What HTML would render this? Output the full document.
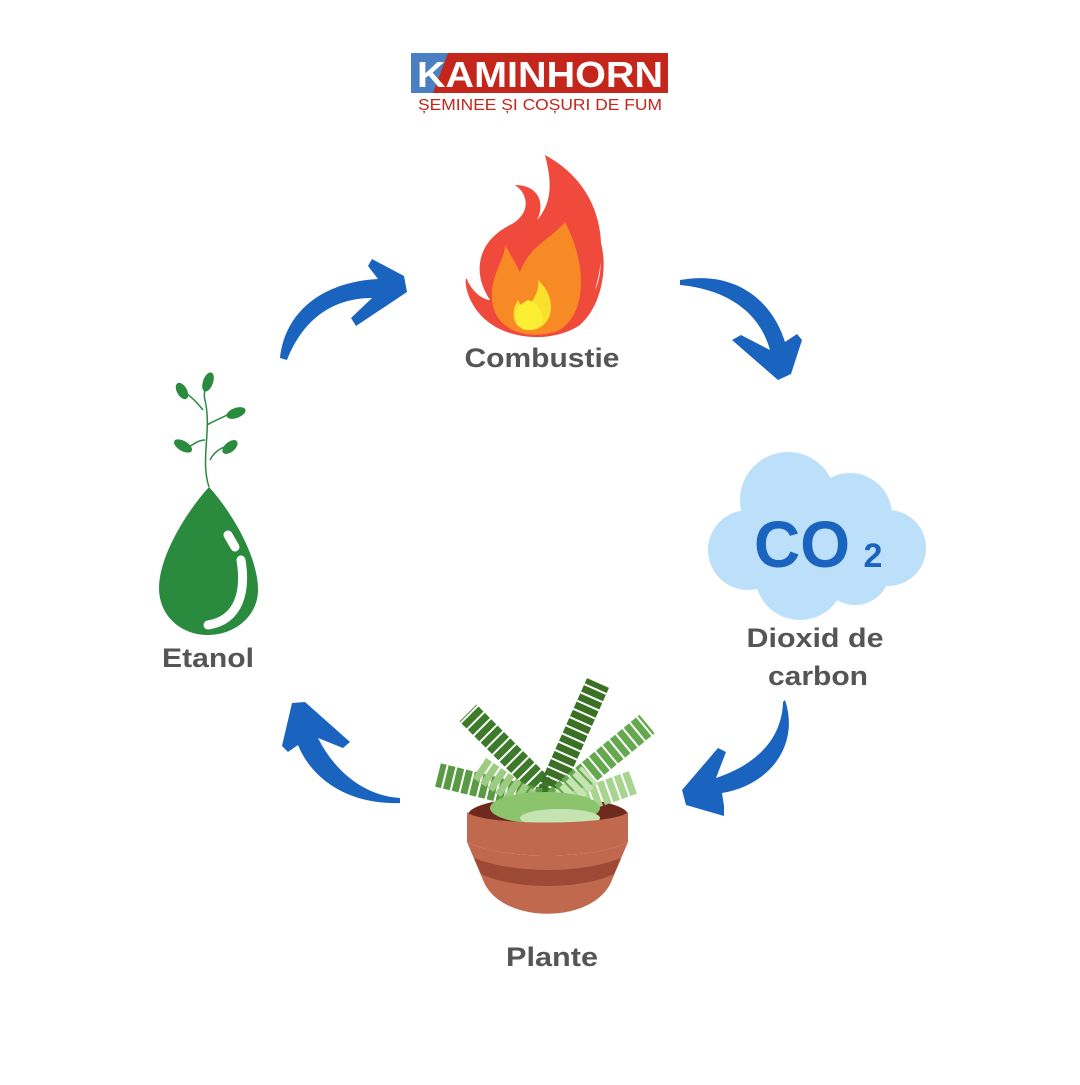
<!DOCTYPE html>
<html><head><meta charset="utf-8"><style>
html,body{margin:0;padding:0;background:#fff;}
.lbl{font-family:"Liberation Sans",sans-serif;font-weight:bold;font-size:27px;fill:#555;}
</style></head><body>
<svg width="1080" height="1080" viewBox="0 0 1080 1080" xmlns="http://www.w3.org/2000/svg">
<rect x="411" y="53" width="257" height="40" fill="#c4261b"/>
<polygon points="411,53 448,53 433,93 411,93" fill="#4a7fc4"/>
<text x="540" y="87" text-anchor="middle" font-family="Liberation Sans,sans-serif" font-weight="bold" font-size="36" fill="#fff" textLength="246" lengthAdjust="spacingAndGlyphs">KAMINHORN</text>
<text x="540" y="110" text-anchor="middle" font-family="Liberation Sans,sans-serif" font-size="15.5" fill="#c4261b" textLength="244" lengthAdjust="spacingAndGlyphs">ȘEMINEE ȘI COȘURI DE FUM</text>

<g fill="#1a64bf">
<path d="M280,358 C285,312 322,282 378,279 L368,266 L372,259 L404,276 L407,292 L356,326 L351,318 L372,298 C330,298 302,322 287,360 Z"/>
<path d="M680,280 C735,270 772,300 785,342 L797,334 L802,340 L791,374 L778,380 L732,340 L741,335 L770,350 C760,314 730,290 680,285 Z"/>
<path d="M785,700 C800,745 770,785 722,793 L724,806 L724,816 L686,805 L682,790 L718,748 L726,752 L716,778 C755,765 782,740 783,702 Z"/>
<path d="M400,803 C350,805 312,780 298,745 L288,752 L282,746 L292,703 L305,702 L350,742 L343,748 L318,738 C335,772 365,796 400,798 Z"/>
</g>

<path d="M545,155 C600,185 610,240 595,290 C605,270 600,240 592,225 C610,245 608,300 580,325 C550,345 500,340 478,312 C462,292 465,270 468,282 C478,300 490,300 490,300 C470,270 480,240 510,225 C530,215 530,195 515,185 C540,185 545,205 537,220 C555,200 550,175 545,155 Z" fill="#ef4a3c"/>
<path d="M565,222 C590,270 585,320 555,332 C525,340 495,330 492,300 C490,275 505,260 505,245 C515,262 520,272 520,272 C530,245 550,240 565,222 Z" fill="#f78a25"/>
<path d="M538,280 C560,300 552,330 530,330 C512,330 510,312 518,300 C522,310 528,312 528,312 C530,300 540,295 538,280 Z" fill="#f9e02d"/>
<path d="M528,300 C545,305 550,330 528,330 C515,330 512,315 520,305 Z" fill="#fcee32"/>
<text class="lbl" x="542" y="367" text-anchor="middle" textLength="155" lengthAdjust="spacingAndGlyphs">Combustie</text>

<g fill="#bcdffa">
<circle cx="788" cy="500" r="48"/><circle cx="850" cy="515" r="42"/><circle cx="888" cy="548" r="38"/>
<circle cx="748" cy="550" r="40"/><circle cx="800" cy="575" r="45"/><circle cx="855" cy="570" r="35"/>
<rect x="750" y="510" width="140" height="70"/>
</g>
<text x="802" y="567" text-anchor="middle" font-family="Liberation Sans,sans-serif" font-weight="bold" font-size="66" fill="#1a64bf" textLength="96" lengthAdjust="spacingAndGlyphs">CO</text>
<text x="873" y="567" text-anchor="middle" font-family="Liberation Sans,sans-serif" font-weight="bold" font-size="34" fill="#1a64bf">2</text>
<text class="lbl" x="815" y="647" text-anchor="middle" textLength="137" lengthAdjust="spacingAndGlyphs">Dioxid de</text>
<text class="lbl" x="818" y="685" text-anchor="middle" textLength="100" lengthAdjust="spacingAndGlyphs">carbon</text>

<path d="M209,487 C230,510 258,555 258,590 C258,615 236,635 208,635 C180,635 159,615 159,588 C159,555 188,510 209,487 Z" fill="#2a8a3e"/>
<path d="M241,560 C246,590 240,620 208,625" stroke="#fff" stroke-width="9" fill="none" stroke-linecap="round"/>
<line x1="228" y1="535" x2="235" y2="547" stroke="#fff" stroke-width="9" stroke-linecap="round"/>
<g stroke="#2a8a3e" stroke-width="1.5" fill="none">
<path d="M209,487 C200,460 212,430 205,400 C202,390 210,380 210,378"/>
<path d="M205,440 C195,440 188,450 185,448"/><path d="M207,425 C215,420 230,415 235,410"/>
<path d="M210,460 C215,450 225,445 230,448"/><path d="M203,410 C195,400 188,393 182,392"/>
</g>
<g fill="#2a8a3e">
<ellipse cx="208" cy="382" rx="5" ry="10" transform="rotate(20 208 382)"/>
<ellipse cx="182" cy="391" rx="5" ry="9" transform="rotate(-30 182 391)"/>
<ellipse cx="236" cy="413" rx="5" ry="10" transform="rotate(70 236 413)"/>
<ellipse cx="183" cy="446" rx="5" ry="10" transform="rotate(-60 183 446)"/>
<ellipse cx="230" cy="447" rx="5" ry="9" transform="rotate(50 230 447)"/>
</g>
<text class="lbl" x="208" y="667" text-anchor="middle" textLength="92" lengthAdjust="spacingAndGlyphs">Etanol</text>

<ellipse cx="548" cy="815" rx="80" ry="18" fill="#6e2a1e"/>
<g fill="none" stroke-width="24" stroke-dasharray="7 2" stroke-linecap="butt">
<path d="M545,790 L468,713" stroke="#3d7a2a"/>
<path d="M548,795 L598,683" stroke="#3a7125"/>
<path d="M540,800 L438,775" stroke="#5a9a44"/>
<path d="M555,800 L647,724" stroke="#66a84e"/>
<path d="M550,812 L634,782" stroke="#a8d490"/>
<path d="M545,812 L478,767" stroke="#9ccc82"/>
<path d="M548,815 L590,775" stroke="#c5e4b2"/>
</g>
<ellipse cx="545" cy="808" rx="55" ry="16" fill="#8cc46e"/>
<ellipse cx="560" cy="818" rx="40" ry="9" fill="#c5e4b2"/>
<path d="M467,812 C480,826 615,826 628,812 L628,842 C595,860 500,860 467,842 Z" fill="#c0694e"/>
<path d="M467,842 C500,860 595,860 628,842 L612,880 C595,925 500,925 483,880 Z" fill="#c0694e"/>
<path d="M474,858 C515,874 580,874 621,858 L614,874 C580,890 515,890 481,874 Z" fill="#9c4a36"/>
<text class="lbl" x="552" y="966" text-anchor="middle" textLength="92" lengthAdjust="spacingAndGlyphs">Plante</text>
</svg>
</body></html>
